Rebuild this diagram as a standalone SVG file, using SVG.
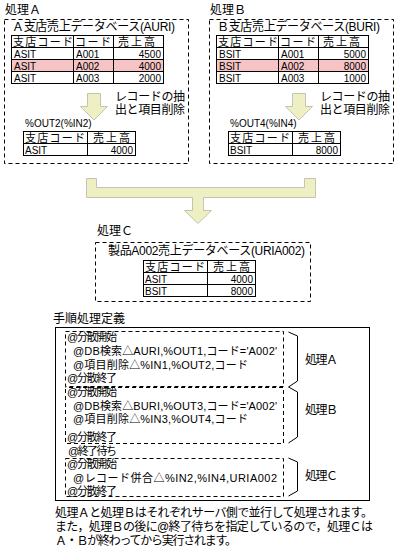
<svg xmlns="http://www.w3.org/2000/svg" width="415" height="555" viewBox="0 0 415 555">
<style>
text{font-family:"Liberation Sans","Noto Sans CJK JP",sans-serif;font-size:12px;fill:#000}
.h{font-size:11px}
.s{font-size:10px}
.p{font-size:11px}
.e{text-anchor:end}
.dash{fill:none;stroke:#000;stroke-width:1;stroke-dasharray:4 3}
.cell{fill:#fff;stroke:#000;stroke-width:1}
.ln{stroke:#000;stroke-width:1;fill:none}
.hl{fill:#f6c4c4}
.arrow{fill:#efefc4;stroke:#c4c4b0;stroke-width:1}
</style>
<defs>
<g id="tblBig">
<line class="ln" x1="11.5" y1="47.5" x2="163.5" y2="47.5"/>
<line class="ln" x1="11.5" y1="59.5" x2="163.5" y2="59.5"/>
<line class="ln" x1="11.5" y1="71.5" x2="163.5" y2="71.5"/>
<line class="ln" x1="73.5" y1="35.5" x2="73.5" y2="83.5"/>
<line class="ln" x1="113.5" y1="35.5" x2="113.5" y2="83.5"/>
<rect class="ln" x="11.5" y="35.5" width="152" height="48"/>
</g>
</defs>

<g id="procA">
<text x="5" y="14">処理Ａ</text>
<rect class="dash" x="4.5" y="19.5" width="184" height="144"/>
<text x="12" y="31" textLength="163">Ａ支店売上データベース(AURI)</text>
<rect x="11.5" y="35.5" width="152" height="48" fill="#fff"/>
<rect class="hl" x="12" y="60" width="151" height="11"/>
<use href="#tblBig"/>
<text class="h" x="13" y="45.5" textLength="60">支店コード</text>
<text class="h" x="75" y="45.5" textLength="36">コード</text>
<text class="h" x="118" y="45.5" textLength="37">売上高</text>
<text class="s" x="14" y="57.5">ASIT</text><text class="s" x="76" y="57.5">A001</text><text class="s e" x="161" y="57.5">4500</text>
<text class="s" x="14" y="69.5">ASIT</text><text class="s" x="76" y="69.5">A002</text><text class="s e" x="161" y="69.5">4000</text>
<text class="s" x="14" y="81.5">ASIT</text><text class="s" x="76" y="81.5">A003</text><text class="s e" x="161" y="81.5">2000</text>
<polygon class="arrow" points="87.5,93.5 100.5,93.5 100.5,106.5 107.5,106.5 94,120 80.5,106.5 87.5,106.5"/>
<text x="115" y="101" textLength="70">レコードの抽</text>
<text x="115" y="114" textLength="70">出と項目削除</text>
<text class="s" x="25" y="127">%OUT2(%IN2)</text>
<rect class="cell" x="23.5" y="131.5" width="112" height="24"/>
<line class="ln" x1="23.5" y1="143.5" x2="135.5" y2="143.5"/>
<line class="ln" x1="87.5" y1="131.5" x2="87.5" y2="155.5"/>
<text class="h" x="25" y="141.5" textLength="60">支店コード</text>
<text class="h" x="93" y="141.5" textLength="37">売上高</text>
<text class="s" x="25" y="153.5">ASIT</text><text class="s e" x="133" y="153.5">4000</text>
</g>

<g id="procB" transform="translate(205,0)">
<text x="5" y="14">処理Ｂ</text>
<rect class="dash" x="4.5" y="19.5" width="184" height="144"/>
<text x="12" y="31" textLength="163">Ｂ支店売上データベース(BURI)</text>
<rect x="11.5" y="35.5" width="152" height="48" fill="#fff"/>
<rect class="hl" x="12" y="60" width="151" height="11"/>
<use href="#tblBig"/>
<text class="h" x="13" y="45.5" textLength="60">支店コード</text>
<text class="h" x="75" y="45.5" textLength="36">コード</text>
<text class="h" x="118" y="45.5" textLength="37">売上高</text>
<text class="s" x="14" y="57.5">BSIT</text><text class="s" x="76" y="57.5">A001</text><text class="s e" x="161" y="57.5">5000</text>
<text class="s" x="14" y="69.5">BSIT</text><text class="s" x="76" y="69.5">A002</text><text class="s e" x="161" y="69.5">8000</text>
<text class="s" x="14" y="81.5">BSIT</text><text class="s" x="76" y="81.5">A003</text><text class="s e" x="161" y="81.5">1000</text>
<polygon class="arrow" points="87.5,93.5 100.5,93.5 100.5,106.5 107.5,106.5 94,120 80.5,106.5 87.5,106.5"/>
<text x="115" y="101" textLength="70">レコードの抽</text>
<text x="115" y="114" textLength="70">出と項目削除</text>
<text class="s" x="25" y="127">%OUT4(%IN4)</text>
<rect class="cell" x="23.5" y="131.5" width="112" height="24"/>
<line class="ln" x1="23.5" y1="143.5" x2="135.5" y2="143.5"/>
<line class="ln" x1="87.5" y1="131.5" x2="87.5" y2="155.5"/>
<text class="h" x="25" y="141.5" textLength="60">支店コード</text>
<text class="h" x="93" y="141.5" textLength="37">売上高</text>
<text class="s" x="25" y="153.5">BSIT</text><text class="s e" x="133" y="153.5">8000</text>
</g>

<g id="connectors">
<polygon class="arrow" points="86.5,178.5 96.5,178.5 96.5,187.5 304.5,187.5 304.5,178.5 315.5,178.5 315.5,197.5 203.5,197.5 203.5,210.5 211.5,210.5 198,223.5 184.5,210.5 192.5,210.5 192.5,197.5 86.5,197.5"/>
</g>

<g id="procC">
<text x="97" y="235">処理Ｃ</text>
<rect class="dash" x="95.5" y="242.5" width="215" height="59"/>
<text x="108" y="255" textLength="197">製品A002売上データベース(URIA002)</text>
<rect class="cell" x="143.5" y="260.5" width="112" height="36"/>
<line class="ln" x1="143.5" y1="272.5" x2="255.5" y2="272.5"/>
<line class="ln" x1="143.5" y1="284.5" x2="255.5" y2="284.5"/>
<line class="ln" x1="207.5" y1="260.5" x2="207.5" y2="296.5"/>
<text class="h" x="145" y="270.5" textLength="60">支店コード</text>
<text class="h" x="213" y="270.5" textLength="37">売上高</text>
<text class="s" x="145" y="282.5">ASIT</text><text class="s e" x="253" y="282.5">4000</text>
<text class="s" x="145" y="294.5">BSIT</text><text class="s e" x="253" y="294.5">8000</text>
</g>

<g id="procedure">
<text x="53" y="323" textLength="72">手順処理定義</text>
<rect x="55.5" y="327.5" width="314" height="173" fill="none" stroke="#000"/>
<rect class="dash" x="65.5" y="331.5" width="218" height="55"/>
<rect class="dash" x="65.5" y="387.5" width="218" height="56" stroke-dashoffset="3.5"/>
<rect class="dash" x="65.5" y="458.5" width="218" height="38"/>
<text class="p" x="67" y="341" textLength="50">@分散開始</text>
<text class="p" x="73" y="355" textLength="204">@DB検索△AURI,%OUT1,コード='A002'</text>
<text class="p" x="73" y="368.5" textLength="175">@項目削除△%IN1,%OUT2,コード</text>
<text class="p" x="67" y="382" textLength="50">@分散終了</text>
<text class="p" x="67" y="396" textLength="50">@分散開始</text>
<text class="p" x="73" y="409.5" textLength="204">@DB検索△BURI,%OUT3,コード='A002'</text>
<text class="p" x="73" y="423" textLength="175">@項目削除△%IN3,%OUT4,コード</text>
<text class="p" x="67" y="441" textLength="50">@分散終了</text>
<text class="p" x="68" y="454.5" textLength="49">@終了待ち</text>
<text class="p" x="67" y="468" textLength="50">@分散開始</text>
<text class="p" x="73" y="482" textLength="204">@レコード併合△%IN2,%IN4,URIA002</text>
<text class="p" x="67" y="495" textLength="50">@分散終了</text>
<path class="ln" d="M288.5,332 L297.5,336 L297.5,381 L288.5,387 L297.5,392 L297.5,437 L288.5,443"/>
<path class="ln" d="M288.5,458 L297.5,462 L297.5,491 L288.5,496"/>
<text x="305" y="364" textLength="33">処理Ａ</text>
<text x="305" y="414" textLength="33">処理Ｂ</text>
<text x="305" y="480" textLength="33">処理Ｃ</text>
</g>

<g id="note">
<text x="55" y="517" textLength="318">処理Ａと処理Ｂはそれぞれサーバ側で並行して処理されます。</text>
<text x="55" y="531" textLength="318">また，処理Ｂの後に@終了待ちを指定しているので，処理Ｃは</text>
<text x="55" y="545" textLength="182">Ａ・Ｂが終わってから実行されます。</text>
</g>
</svg>
